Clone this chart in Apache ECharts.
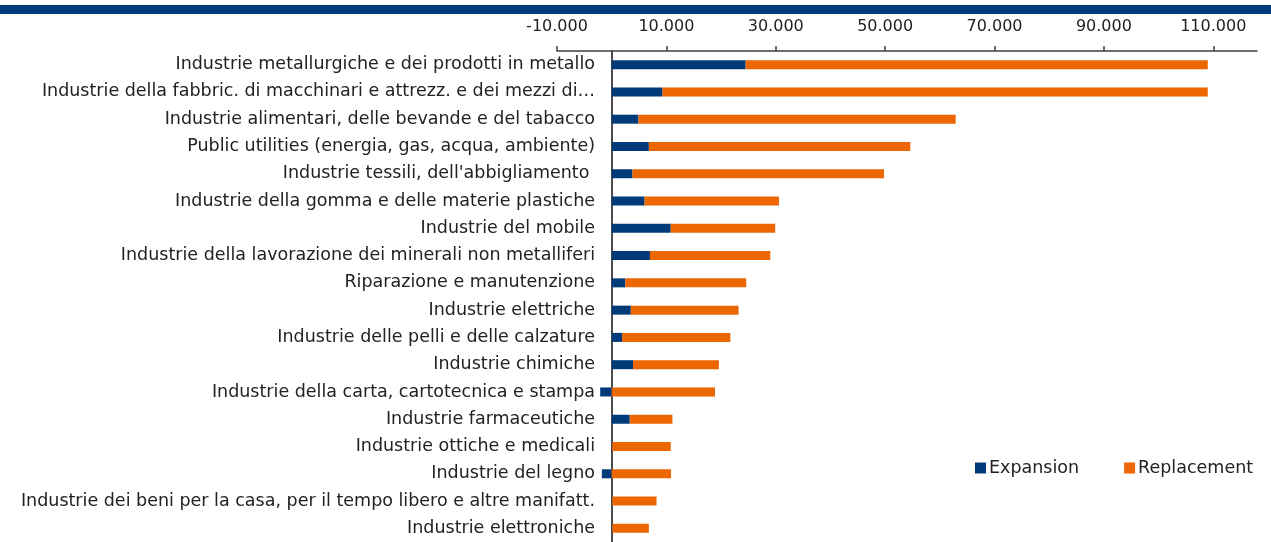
<!DOCTYPE html>
<html>
<head>
<meta charset="utf-8">
<script src="https://cdn.jsdelivr.net/npm/echarts@6/dist/echarts.min.js"></script>
<style>
    html, body { margin: 0; padding: 0; background: #fff; }
    #chart { width: 1271px; height: 542px; }
</style>
</head>
<body>
<div id="chart"></div>
<script>
// sectors, top to bottom
const categories = [
    'Industrie metallurgiche e dei prodotti in metallo',
    'Industrie della fabbric. di macchinari e attrezz. e dei mezzi di\u2026',
    'Industrie alimentari, delle bevande e del tabacco',
    'Public utilities (energia, gas, acqua, ambiente)',
    "Industrie tessili, dell'abbigliamento ",
    'Industrie della gomma e delle materie plastiche',
    'Industrie del mobile',
    'Industrie della lavorazione dei minerali non metalliferi',
    'Riparazione e manutenzione',
    'Industrie elettriche',
    'Industrie delle pelli e delle calzature',
    'Industrie chimiche',
    'Industrie della carta, cartotecnica e stampa',
    'Industrie farmaceutiche',
    'Industrie ottiche e medicali',
    'Industrie del legno',
    'Industrie dei beni per la casa, per il tempo libero e altre manifatt.',
    'Industrie elettroniche'
]
const expansion = [24500, 9300, 4900, 6800, 3800, 6000, 10800, 7000, 2500, 3500, 1900, 3900, -2100, 3300, 100, -1800, 100, 100]
const replacement = [84500, 99700, 58000, 47800, 46000, 24600, 19100, 22000, 22100, 19700, 19800, 15700, 18900, 7800, 10700, 10850, 8100, 6700]
const xTicks = [-10000, 10000, 30000, 50000, 70000, 90000, 110000]

const fontFamily = "'DejaVu Sans', sans-serif"
const BLUE = '#003A78'
const ORANGE = '#EC6602'

const fmt = (v) => {
    let s = Math.abs(v).toString().replace(/\B(?=(\d{3})+(?!\d))/g, '.')
    return (v < 0 ? '-' : '') + s
}

let chart = echarts.init(document.getElementById('chart'))
chart.setOption({
    animation: false,
    textStyle: { fontFamily: fontFamily },
    graphic: [{
        type: 'rect',
        left: 0,
        top: 5,
        shape: { width: 1271, height: 9 },
        style: { fill: BLUE }
    }],
    legend: {
        left: 970,
        top: 454,
        itemWidth: 11,
        itemHeight: 11,
        itemGap: 45,
        icon: 'rect',
        selectedMode: false,
        textStyle: { fontSize: 17.5, color: '#222', fontFamily: fontFamily, padding: [0, 0, 0, -2] },
        data: ['Expansion', 'Replacement']
    },
    grid: {
        left: 557,
        right: 14,
        top: 51,
        height: 496,
        containLabel: false
    },
    xAxis: {
        type: 'value',
        position: 'top',
        min: -10000,
        max: 118000,
        interval: 20000,
        splitLine: { show: false },
        axisLine: { show: true, lineStyle: { color: '#404040', width: 1.5 } },
        axisTick: { show: true, length: 5, customValues: xTicks, lineStyle: { color: '#404040', width: 1.5 } },
        axisLabel: {
            customValues: xTicks,
            margin: 16,
            fontSize: 16,
            color: '#222',
            formatter: fmt
        }
    },
    yAxis: {
        type: 'category',
        inverse: true,
        data: categories,
        axisLine: { show: true, onZero: true, lineStyle: { color: '#111', width: 1.5 } },
        axisTick: { show: false },
        // labels sit against the zero line, not the grid edge
        axisLabel: { margin: -38, fontSize: 17.5, color: '#222' }
    },
    series: [{
        name: 'Expansion',
        type: 'bar',
        stack: 'tot',
        barWidth: 9,
        itemStyle: { color: BLUE },
        data: expansion
    }, {
        name: 'Replacement',
        type: 'bar',
        stack: 'tot',
        barWidth: 9,
        itemStyle: { color: ORANGE },
        data: replacement
    }]
})
</script>
</body>
</html>
